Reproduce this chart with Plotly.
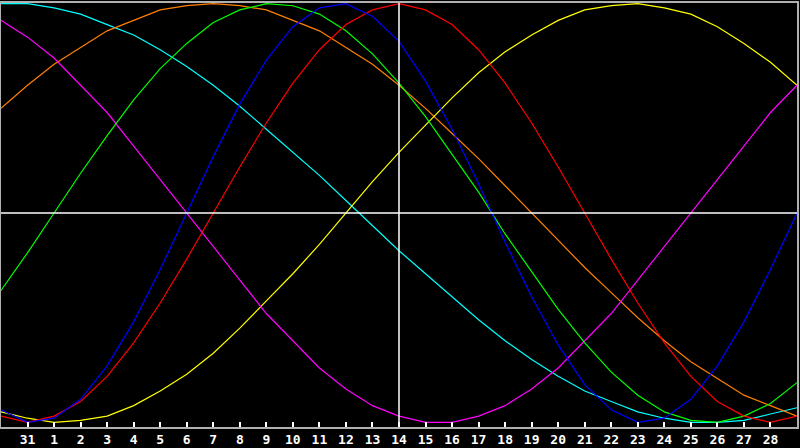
import plotly.graph_objects as go

# Days shown on the chart (Jan 30 .. Mar 1), today = 14
days = [30, 31, 1, 2, 3, 4, 5, 6, 7, 8, 9, 10, 11, 12, 13, 14, 15,
        16, 17, 18, 19, 20, 21, 22, 23, 24, 25, 26, 27, 28, 1]
today = 14

# Cycle values in percent, one per day
physical = [-94, -100, -98, -89, -73, -52, -27, 0, 27, 52, 73, 89, 98, 100, 94, 82,
            63, 40, 14, -14, -40, -63, -82, -94, -100, -98, -89, -73, -52, -27, 0]
emotional = [-97, -100, -97, -90, -78, -62, -43, -22, 0, 22, 43, 62, 78, 90, 97, 100,
             97, 90, 78, 62, 43, 22, 0, -22, -43, -62, -78, -90, -97, -100, -97]
intellectual = [-37, -19, 0, 19, 37, 54, 69, 81, 91, 97, 100, 99, 95, 87, 76, 62,
                46, 28, 10, -10, -28, -46, -62, -76, -87, -95, -99, -100, -97, -91, -81]
intuitive = [92, 84, 74, 61, 48, 32, 16, 0, -16, -32, -48, -61, -74, -84, -92, -97,
             -100, -100, -97, -92, -84, -74, -61, -48, -32, -16, 0, 16, 32, 48, 61]
aesthetic = [-95, -98, -100, -99, -97, -92, -85, -77, -67, -55, -42, -29, -15, 0, 15, 29,
             42, 55, 67, 77, 85, 92, 97, 99, 100, 98, 95, 89, 81, 72, 61]
awareness = [50, 61, 71, 79, 87, 92, 97, 99, 100, 99, 97, 92, 87, 79, 71, 61,
             50, 38, 26, 13, 0, -13, -26, -38, -50, -61, -71, -79, -87, -92, -97]
spiritual = [100, 100, 98, 95, 90, 85, 78, 70, 61, 51, 40, 29, 18, 6, -6, -18,
             -29, -40, -51, -61, -70, -78, -85, -90, -95, -98, -100, -100, -99, -96, -93]

pos = list(range(len(days)))
today_pos = days.index(today)

series = [
    ("Spiritual", spiritual, "#00ffff"),
    ("Awareness", awareness, "#ff8000"),
    ("Aesthetic", aesthetic, "#ffff00"),
    ("Intuitive", intuitive, "#ff00ff"),
    ("Intellectual", intellectual, "#00ff00"),
    ("Emotional", emotional, "#ff0000"),
    ("Physical", physical, "#0000ff"),
]

fig = go.Figure()
for name, vals, col in series:
    fig.add_trace(go.Scatter(x=pos, y=vals, name=name, mode="lines",
                             line=dict(color=col, width=1.2)))

# zero line and "today" marker
fig.add_shape(type="line", xref="paper", yref="y", x0=0, x1=1, y0=0, y1=0,
              line=dict(color="white", width=1.5), layer="above")
fig.add_shape(type="line", xref="x", yref="paper", x0=today_pos, x1=today_pos, y0=0, y1=1,
              line=dict(color="white", width=1.5), layer="above")

fig.update_layout(
    width=800, height=448,
    margin=dict(l=1, r=1, t=1, b=19),
    paper_bgcolor="black",
    plot_bgcolor="black",
    showlegend=False,
    xaxis=dict(
        range=[0, len(days) - 1],
        tickvals=pos[1:-1],
        ticktext=[str(d) for d in days[1:-1]],
        ticks="inside", ticklen=5, tickcolor="white", tickwidth=1.5,
        showline=True, linecolor="#b0b0b0", linewidth=1.5, mirror=True,
        showgrid=False, zeroline=False,
        tickfont=dict(family="DejaVu Sans Mono", size=13, color="white", weight="bold"),
    ),
    yaxis=dict(
        range=[-102.2, 100.3],
        showticklabels=False, ticks="",
        showline=True, linecolor="#b0b0b0", linewidth=1.5, mirror=True,
        showgrid=False, zeroline=False,
    ),
)

# page body has a default margin; remove it so the chart fills the window
fig.write_html("out.html", config={"displayModeBar": False},
               post_script="document.body.style.margin='0';document.body.style.background='black';")
